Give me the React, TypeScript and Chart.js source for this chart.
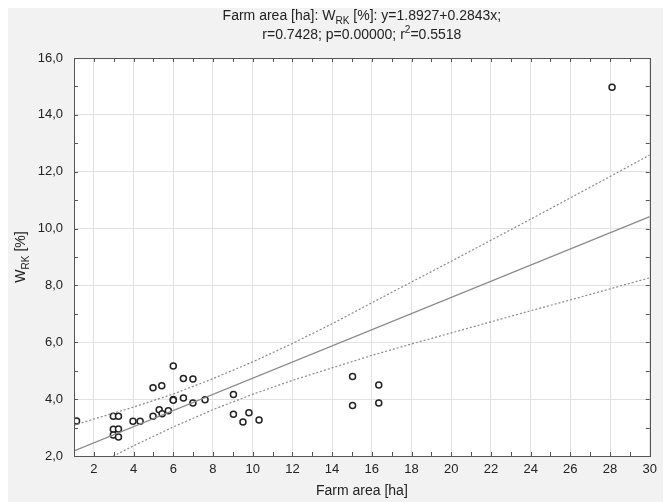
import React, { useEffect, useRef } from 'react';
import { Chart, registerables } from 'chart.js';

Chart.register(...registerables);

// ---- data ----
const farmArea = [1.13, 2.98, 3.24, 2.98, 3.24, 2.98, 3.24, 3.97, 4.33, 4.98, 4.98, 5.42, 5.29, 5.44, 5.75, 6.0, 6.0, 6.0, 6.51, 6.99, 6.51, 6.99, 7.6, 9.03, 9.03, 9.51, 9.81, 10.32, 15.03, 15.03, 16.35, 16.35, 28.1];
const wrk = [3.23, 3.40, 3.40, 2.94, 2.95, 2.74, 2.67, 3.22, 3.22, 3.40, 4.40, 4.47, 3.63, 3.49, 3.59, 5.17, 3.99, 3.96, 4.73, 4.71, 4.04, 3.86, 3.98, 4.16, 3.47, 3.20, 3.52, 3.27, 4.80, 3.78, 4.50, 3.86, 14.97];

const fitX = [1, 30];
const fitY = [2.18, 10.42];

const bandX = [1, 2, 4, 6, 8, 10, 12, 14, 16, 18, 20, 22, 24, 26, 28, 30];
const bandUpper = [3.08, 3.30, 3.72, 4.18, 4.72, 5.31, 5.96, 6.65, 7.39, 8.12, 8.85, 9.59, 10.33, 11.08, 11.83, 12.59];
const bandLower = [1.28, 1.64, 2.36, 3.02, 3.63, 4.17, 4.66, 5.10, 5.54, 5.94, 6.33, 6.72, 7.11, 7.49, 7.88, 8.27];

const xMin = 1;
const xMax = 30;
const yMin = 2;
const yMax = 16;

type Part = { t: string; sub?: boolean; sup?: boolean };
const titleLine1: Part[] = [{ t: 'Farm area [ha]: W' }, { t: 'RK', sub: true }, { t: ' [%]: y=1.8927+0.2843x;' }];
const titleLine2: Part[] = [{ t: 'r=0.7428; p=0.00000; r' }, { t: '2', sup: true }, { t: '=0.5518' }];
const yTitle: Part[] = [{ t: 'W' }, { t: 'RK', sub: true }, { t: ' [%]' }];
const xTitle = 'Farm area [ha]';

const FONT = '"Liberation Sans", Arial, sans-serif';
const TEXT = '#222222';

function drawRich(ctx: CanvasRenderingContext2D, parts: Part[], cx: number, cy: number, size: number) {
  const small = size * 0.72;
  let w = 0;
  for (const p of parts) {
    ctx.font = `${p.sub || p.sup ? small : size}px ${FONT}`;
    w += ctx.measureText(p.t).width;
  }
  let x = cx - w / 2;
  const base = cy + size * 0.36;
  ctx.textBaseline = 'alphabetic';
  ctx.textAlign = 'left';
  ctx.fillStyle = TEXT;
  for (const p of parts) {
    ctx.font = `${p.sub || p.sup ? small : size}px ${FONT}`;
    const dy = p.sub ? size * 0.25 : p.sup ? -size * 0.4 : 0;
    ctx.fillText(p.t, x, base + dy);
    x += ctx.measureText(p.t).width;
  }
}

const decorPlugin = {
  id: 'decor',
  beforeDraw(chart: any) {
    const { ctx, chartArea } = chart;
    ctx.save();
    ctx.fillStyle = '#ffffff';
    ctx.fillRect(chartArea.left, chartArea.top, chartArea.right - chartArea.left, chartArea.bottom - chartArea.top);
    ctx.restore();
  },
  afterDraw(chart: any) {
    const { ctx, chartArea } = chart;
    const { left, right, top, bottom } = chartArea;
    ctx.save();
    // frame
    ctx.strokeStyle = '#555555';
    ctx.lineWidth = 1;
    ctx.strokeRect(Math.round(left) + 0.5, Math.round(top) + 0.5, Math.round(right - left), Math.round(bottom - top));
    // inward tick marks
    const len = 4;
    ctx.beginPath();
    const xs = chart.scales.x;
    for (const t of xs.ticks) {
      const px = Math.round(xs.getPixelForValue(t.value)) + 0.5;
      ctx.moveTo(px, bottom);
      ctx.lineTo(px, bottom - len);
      ctx.moveTo(px, top);
      ctx.lineTo(px, top + len);
    }
    const ys = chart.scales.y;
    for (const t of ys.ticks) {
      const py = Math.round(ys.getPixelForValue(t.value)) + 0.5;
      ctx.moveTo(left, py);
      ctx.lineTo(left + len, py);
      ctx.moveTo(right, py);
      ctx.lineTo(right - len, py);
    }
    ctx.stroke();
    // titles
    const cx = (left + right) / 2;
    drawRich(ctx, titleLine1, cx, top - 43, 14);
    drawRich(ctx, titleLine2, cx, top - 24.5, 14);
    ctx.translate(left - 54, (top + bottom) / 2);
    ctx.rotate(-Math.PI / 2);
    drawRich(ctx, yTitle, 0, 0, 14);
    ctx.restore();
  },
};

export default function App() {
  const ref = useRef<HTMLCanvasElement | null>(null);

  useEffect(() => {
    if (!ref.current) return;
    const points = farmArea.map((x, i) => ({ x, y: wrk[i] }));
    const fit = fitX.map((x, i) => ({ x, y: fitY[i] }));
    const upper = bandX.map((x, i) => ({ x, y: bandUpper[i] }));
    const lower = bandX.map((x, i) => ({ x, y: bandLower[i] }));

    const chart = new Chart(ref.current, {
      type: 'scatter',
      data: {
        datasets: [
          {
            data: fit,
            showLine: true,
            borderColor: '#8a8a8a',
            borderWidth: 1.2,
            pointRadius: 0,
            pointHoverRadius: 0,
          },
          {
            data: upper,
            showLine: true,
            borderColor: '#8a8a8a',
            borderWidth: 1.2,
            borderDash: [2, 2],
            pointRadius: 0,
            pointHoverRadius: 0,
          },
          {
            data: lower,
            showLine: true,
            borderColor: '#8a8a8a',
            borderWidth: 1.2,
            borderDash: [2, 2],
            pointRadius: 0,
            pointHoverRadius: 0,
          },
          {
            data: points,
            pointRadius: 3,
            pointBorderWidth: 1.5,
            borderColor: '#222222',
            backgroundColor: '#ffffff',
            pointBackgroundColor: '#ffffff',
            pointBorderColor: '#222222',
          },
        ],
      },
      options: {
        responsive: false,
        animation: false,
        events: [],
        layout: { padding: { top: 54, left: 20, right: 2, bottom: 0 } },
        plugins: {
          legend: { display: false },
          tooltip: { enabled: false },
          title: { display: false },
        },
        scales: {
          x: {
            type: 'linear',
            min: xMin,
            max: xMax,
            afterFit: (s: any) => { s.height = 46; },
            border: { display: false },
            grid: {
              drawTicks: false,
              color: (c: any) => (c.tick && c.tick.value % 2 === 0 ? '#e2e2e2' : 'rgba(0,0,0,0)'),
              lineWidth: 1,
            },
            ticks: {
              stepSize: 1,
              autoSkip: false,
              maxRotation: 0,
              padding: 6,
              color: TEXT,
              font: { family: FONT, size: 13 },
              callback: (v: any) => (Number(v) % 2 === 0 ? String(v) : ''),
            },
            title: {
              display: true,
              text: xTitle,
              color: TEXT,
              font: { family: FONT, size: 14 },
              padding: { top: 4, bottom: 2 },
            },
          },
          y: {
            type: 'linear',
            min: yMin,
            max: yMax,
            afterFit: (s: any) => { s.width = 46; },
            border: { display: false },
            grid: {
              drawTicks: false,
              color: (c: any) => (c.tick && c.tick.value % 2 === 0 ? '#e2e2e2' : 'rgba(0,0,0,0)'),
              lineWidth: 1,
            },
            ticks: {
              stepSize: 1,
              autoSkip: false,
              padding: 11,
              color: TEXT,
              font: { family: FONT, size: 13 },
              callback: (v: any) => (Number(v) % 2 === 0 ? Number(v).toFixed(1).replace('.', ',') : ''),
            },
          },
        },
      },
      plugins: [decorPlugin],
    } as any);

    return () => chart.destroy();
  }, []);

  return (
    <div style={{ marginTop: -4, width: 655, height: 498, background: '#f2f2f2' }}>
      <canvas ref={ref} width={655} height={498} style={{ display: 'block' }} />
    </div>
  );
}
